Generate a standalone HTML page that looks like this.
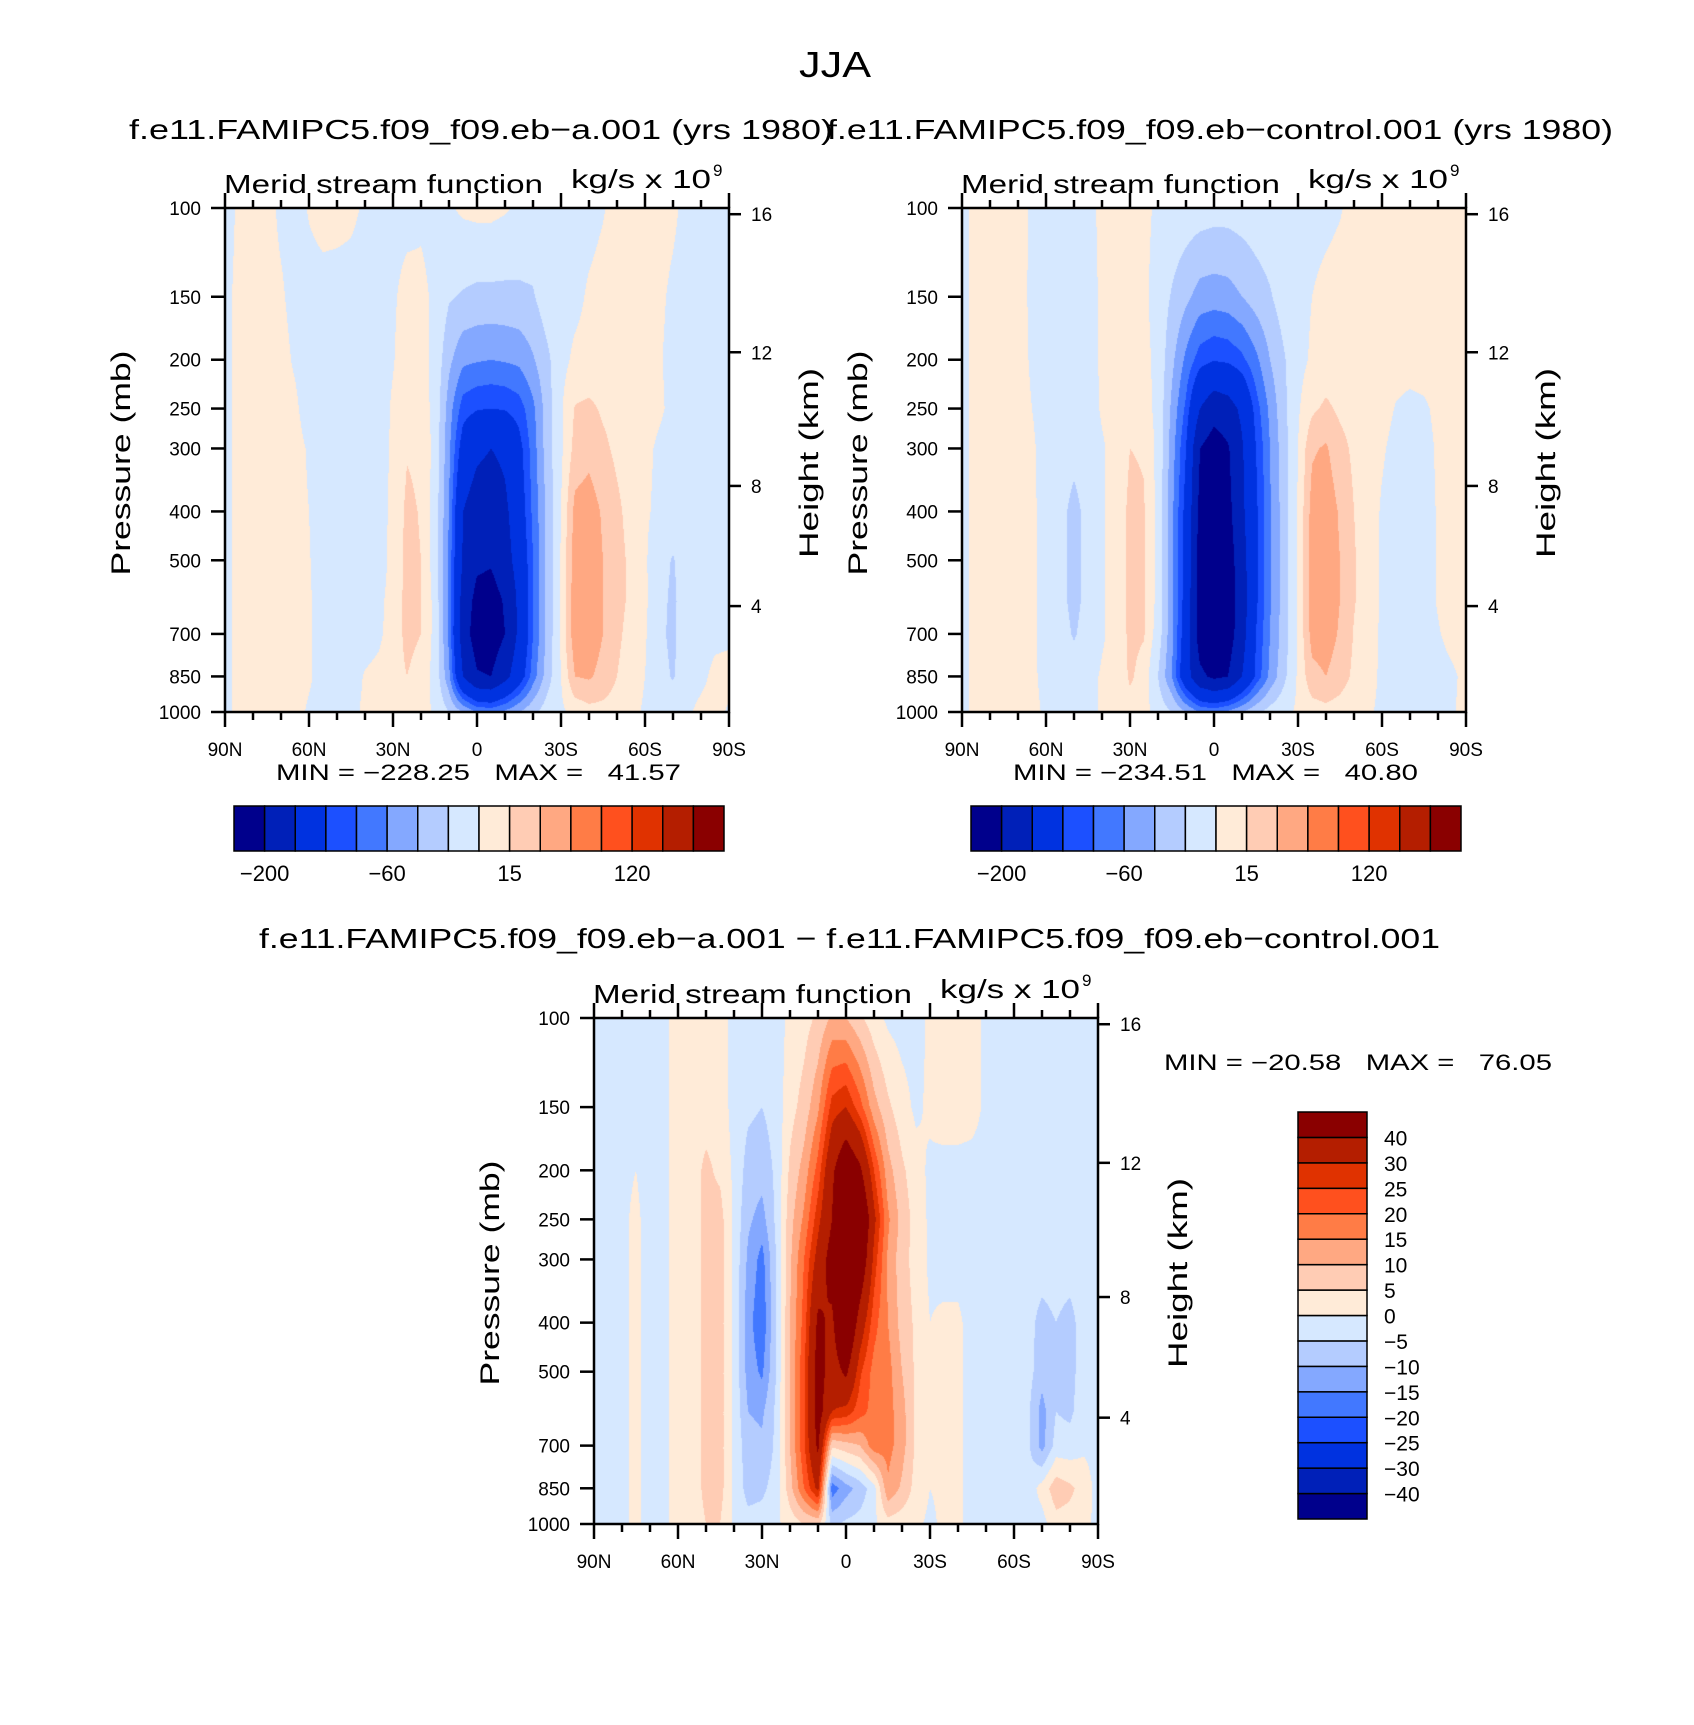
<!DOCTYPE html>
<html><head><meta charset="utf-8">
<style>
html,body{margin:0;padding:0;background:#fff;}
#root{position:relative;width:1694px;height:1725px;overflow:hidden;font-family:"Liberation Sans",sans-serif;}
canvas{position:absolute;}
svg{position:absolute;left:0;top:0;}
text{font-family:"Liberation Sans",sans-serif;fill:#000;white-space:pre;}
</style></head>
<body>
<div id="root">
<canvas id="c1" width="504" height="504" style="left:225px;top:208px"></canvas>
<canvas id="c2" width="504" height="504" style="left:962px;top:208px"></canvas>
<canvas id="c3" width="504" height="506" style="left:594px;top:1018px"></canvas>
<svg id="ov" width="1694" height="1725">
<text x="835" y="77" font-size="36" text-anchor="middle" textLength="72" lengthAdjust="spacingAndGlyphs">JJA</text>
<text x="129" y="139" font-size="28" textLength="704" lengthAdjust="spacingAndGlyphs">f.e11.FAMIPC5.f09_f09.eb−a.001 (yrs 1980)</text>
<text x="827" y="139" font-size="28" textLength="786" lengthAdjust="spacingAndGlyphs">f.e11.FAMIPC5.f09_f09.eb−control.001 (yrs 1980)</text>
<text x="259" y="948" font-size="28" textLength="1181" lengthAdjust="spacingAndGlyphs">f.e11.FAMIPC5.f09_f09.eb−a.001 − f.e11.FAMIPC5.f09_f09.eb−control.001</text>
<text x="1164" y="1070" font-size="22" textLength="388" lengthAdjust="spacingAndGlyphs">MIN = −20.58   MAX =   76.05</text>
</svg>
</div>
<script>
// ---------- data ----------
const plevs = [100,150,200,250,300,400,500,600,700,850,1000];
const latLabels = ["90N","60N","30N","0","30S","60S","90S"];
const presTicks = [100,150,200,250,300,400,500,700,850,1000];
const heightTicks = [4,8,12,16];
const levelsAbs = [-200,-150,-100,-80,-60,-40,-20,0,15,30,60,90,120,150,200];
const levelsAbsLabels = ["−200","−60","15","120"];
const levelsDiff = [-40,-30,-25,-20,-15,-10,-5,0,5,10,15,20,25,30,40];
const levelsDiffLabels = ["−40","−30","−25","−20","−15","−10","−5","0","5","10","15","20","25","30","40"];
const colors = ['#00008c','#0020b8','#0032e0','#1c50ff','#4278ff','#84a8ff','#b4ccff','#d6e8ff','#ffebd8','#ffccb4','#ffa882','#ff7c46','#ff501e','#e03200','#b41e00','#8a0000'];
const statsA = ["−228.25","41.57"];
const statsB = ["−234.51","40.80"];

const fieldA = [
[-5,2,5,5,-3,-5,1,5,5,3,-2,-5,-5,-5,-3,-5,-2,3,5,5,2,-3,-5,-5,-5,-5,-5,-1,5,5,5,4,2,-3,-5,-5,-5],
[-3,3,5,5,2,-5,-5,-5,-6,-6,-6,-6,-2,5,4,-3,-18,-22,-25,-25,-25,-24,-22,-8,-5,-4,2,5,6,5,4,2,-2,-5,-5,-5,-5],
[-3,3,6,6,5,-2,-8,-8,-8,-8,-8,-6,-1,8,6,-5,-35,-55,-58,-60,-58,-55,-42,-25,-5,3,5,7,7,6,5,1,-3,-5,-5,-5,-5],
[-3,3,6,6,6,3,-8,-8,-8,-8,-8,-7,2,10,8,-5,-50,-90,-98,-100,-98,-90,-65,-30,-2,16,18,13,10,7,5,2,-3,-5,-5,-5,-5],
[-3,3,6,6,6,6,-2,-8,-8,-8,-8,-8,3,14,12,-5,-55,-115,-140,-150,-140,-110,-70,-30,-3,20,25,18,12,8,3,-2,-5,-5,-5,-5,-5],
[-3,3,6,6,6,6,0,-8,-8,-8,-8,-8,5,18,14,-8,-60,-150,-175,-180,-160,-120,-75,-35,0,35,38,28,18,10,2,-3,-5,-5,-5,-5,-5],
[-3,3,6,6,6,6,1,-8,-8,-8,-8,-7,5,19,15,-8,-65,-155,-190,-195,-170,-130,-80,-35,2,38,40,30,20,12,2,-10,-22,-5,-5,-5,-5],
[-3,3,6,6,6,6,2,-8,-8,-8,-6,-3,5,20,15,-5,-65,-170,-215,-220,-195,-140,-80,-35,3,40,41,30,20,12,3,-12,-25,-5,-5,-5,-5],
[-3,3,6,6,6,6,2,-8,-8,-8,-5,-2,5,20,15,-5,-65,-175,-225,-228,-200,-140,-80,-35,3,40,40,30,18,10,2,-15,-25,-5,-5,-3,-3],
[-3,3,6,6,6,6,2,-6,-6,-5,1,3,8,15,8,-5,-55,-150,-195,-200,-165,-120,-70,-30,0,30,32,25,15,8,0,-12,-22,-5,-3,3,5],
[-3,3,5,5,5,5,-2,-5,-3,-3,2,3,5,8,5,-2,-20,-40,-60,-65,-55,-40,-25,-10,-3,5,10,10,8,4,-2,-8,-5,-2,3,5,-2]
];
const fieldB = [
[-3,3,5,5,5,-2,-6,-6,-6,-4,3,5,5,4,-3,-6,-8,-10,-12,-12,-10,-8,-6,-6,-6,-5,-4,-1,4,6,6,6,6,6,6,6,6],
[-3,3,6,6,6,-3,-7,-7,-7,-7,3,6,6,4,-8,-22,-35,-48,-50,-48,-40,-30,-22,-10,-5,0,4,6,6,6,6,6,6,6,6,6,6],
[-3,3,6,6,6,-2,-8,-8,-8,-8,3,7,7,5,-5,-35,-65,-90,-98,-95,-85,-65,-40,-22,-5,2,5,7,8,8,7,6,6,6,6,6,6],
[-3,3,6,6,6,0,-8,-8,-8,-8,2,7,9,7,-5,-45,-85,-150,-180,-170,-140,-90,-55,-25,-2,12,18,12,9,8,6,-1,-4,-2,3,5,6],
[-3,3,6,6,6,3,-8,-10,-15,-10,-2,6,15,14,-5,-50,-100,-200,-225,-205,-155,-100,-60,-28,0,28,32,20,12,8,2,-5,-7,-5,2,5,5],
[-3,3,6,6,6,4,-8,-15,-25,-15,-2,7,18,16,-5,-55,-110,-215,-234,-215,-160,-105,-62,-30,2,36,40,28,15,9,-2,-7,-6,-5,1,5,5],
[-3,3,6,6,6,4,-8,-15,-25,-15,-2,7,18,16,-5,-55,-110,-225,-234,-225,-170,-105,-62,-30,2,38,40,30,16,9,-2,-7,-6,-5,1,5,5],
[-3,3,6,6,6,4,-8,-15,-25,-15,-2,7,18,16,-5,-55,-115,-228,-234,-228,-175,-105,-62,-30,2,38,40,30,16,8,-2,-7,-6,-5,1,5,5],
[-3,3,6,6,6,4,-8,-12,-22,-12,-2,6,18,16,-8,-55,-120,-225,-232,-225,-170,-100,-60,-30,2,36,38,28,14,8,-3,-7,-6,-6,-1,4,5],
[-3,3,6,6,6,4,-6,-8,-10,-6,2,5,17,10,-20,-60,-130,-190,-210,-200,-150,-95,-55,-25,3,25,30,22,12,6,-3,-6,-8,-15,-5,-2,3],
[-3,3,5,5,5,5,-3,-5,-5,-5,2,4,10,6,-8,-20,-40,-60,-65,-55,-40,-25,-12,-5,3,8,10,8,5,2,-3,-5,-4,-3,-2,-1,3]
];
const fieldD = [
[-2,-2,-1,-1,-2,-1,2,3,3,3,-2,-2,-2,-2,1,3,6,11,10,6,2,-1,-2,-2,1,3,3,2,-1,-2,-2,-2,-2,-2,-2,-2,-2],
[-2,-2,-1,-1,-2,-1,2,3,3,3,-2,-4,-5,-3,3,7,14,27,30,22,12,6,2,-1,1,3,3,2,-1,-2,-2,-2,-2,-2,-2,-2,-2],
[-2,-2,-1,0,-2,-1,2,3,6,4,-1,-7,-8,-4,6,12,22,38,50,42,25,12,6,2,-1,-2,-2,-2,-2,-2,-2,-2,-2,-2,-2,-2,-2],
[-2,-2,-1,1,-2,-1,2,3,6,7,-1,-9,-12,-4,8,16,28,40,60,55,32,16,8,3,-1,-2,-2,-2,-2,-2,-2,-2,-2,-2,-2,-2,-2],
[-2,-2,-1,1,-2,-1,2,3,6,7,-1,-11,-17,-5,9,20,33,45,65,50,28,14,7,3,-1,-2,-2,-2,-2,-2,-2,-2,-2,-2,-2,-2,-2],
[-2,-2,-1,1,-2,-1,2,3,6,7,-1,-13,-19,-5,10,22,42,38,55,35,22,15,8,4,0,1,1,-2,-2,-2,-2,-3,-7,-5,-7,-2,-2],
[-2,-2,-1,1,-2,-1,2,3,6,7,-1,-12,-16,-5,10,24,45,35,42,26,18,17,10,4,0,1,1,-2,-2,-2,-2,-3,-8,-5,-7,-2,-2],
[-2,-2,-1,1,-2,-1,2,3,6,7,-1,-10,-11,-4,10,24,45,30,28,22,18,17,12,4,0,1,1,-2,-2,-2,-2,-4,-12,-5,-6,-2,-2],
[-2,-2,-1,1,-2,-1,2,3,6,7,-1,-8,-9,-4,10,24,42,6,8,10,18,17,12,4,0,1,1,-2,-2,-2,-2,-4,-12,-3,-3,-1,-2],
[-2,-2,-1,1,-2,-1,2,3,6,7,-1,-7,-6,-3,8,20,32,-18,-12,-8,-2,14,9,3,0,1,1,-2,-2,-2,-2,-3,2,8,6,3,-2],
[-2,-2,-1,1,-2,-1,2,3,5,5,-1,-3,-3,-1,2,5,6,-6,-4,-3,-1,3,2,1,-1,1,1,-2,-2,-2,-2,-2,-2,3,3,2,-2]
];

// ---------- rendering ----------
const lp = plevs.map(p => Math.log10(p));
function hexRGB(h){return [parseInt(h.substr(1,2),16),parseInt(h.substr(3,2),16),parseInt(h.substr(5,2),16)];}
const rgb = colors.map(hexRGB);
function colorIndex(v, levels){let k=0;while(k<levels.length && v>=levels[k])k++;return k;}
function val(f,r,k){const row=f[Math.min(r,f.length-1)];return row[Math.min(k,row.length-1)];}
function drawField(id, field, levels){
  const cv=document.getElementById(id), ctx=cv.getContext('2d');
  const W=cv.width,H=cv.height, img=ctx.createImageData(W,H);
  const ncol=field[0].length-1;
  for(let j=0;j<H;j++){
    const l=2+(j+0.5)/H;
    let r=0;while(r<lp.length-2 && l>lp[r+1])r++;
    const t=Math.max(0,Math.min(1,(l-lp[r])/(lp[r+1]-lp[r])));
    for(let i=0;i<W;i++){
      const c=(i+0.5)/W*ncol;let k=Math.min(ncol-1,Math.floor(c));const s=c-k;
      const v=(1-t)*((1-s)*val(field,r,k)+s*val(field,r,k+1))+t*((1-s)*val(field,r+1,k)+s*val(field,r+1,k+1));
      const col=rgb[colorIndex(v,levels)];const o=(j*W+i)*4;
      img.data[o]=col[0];img.data[o+1]=col[1];img.data[o+2]=col[2];img.data[o+3]=255;
    }
  }
  ctx.putImageData(img,0,0);
}
drawField('c1',fieldA,levelsAbs);
drawField('c2',fieldB,levelsAbs);
drawField('c3',fieldD,levelsDiff);

// ---------- axes ----------
const NS='http://www.w3.org/2000/svg';
const ov=document.getElementById('ov');
function mk(tag,attrs,txt){const e=document.createElementNS(NS,tag);for(const a in attrs)e.setAttribute(a,attrs[a]);if(txt!==undefined)e.textContent=txt;ov.appendChild(e);return e;}
function yOfP(b,p){return b.y+(Math.log10(p)-2)*b.h;}
function pOfZ(zkm){const z=zkm*1000;if(z<=11000)return 1013.25*Math.pow(1-2.25577e-5*z,5.2559);return 226.32*Math.exp(-(z-11000)/6341.6);}
function xOfLat(b,deg){return b.x+deg/180*b.w;}

function drawAxes(b,name){
  let e;
  for(const p of presTicks){
    const y=yOfP(b,p);
    e=mk('line',{x1:b.x-14,x2:b.x,y1:y,y2:y,stroke:'#000','stroke-width':2.5});
    
    
    e=mk('text',{x:b.x-24,y:y+7,'font-size':19,'text-anchor':'end'},String(p));
    
    
  }
  for(const z of heightTicks){
    const y=yOfP(b,pOfZ(z));
    e=mk('line',{x1:b.x+b.w,x2:b.x+b.w+12,y1:y,y2:y,stroke:'#000','stroke-width':2.5});
    
    
    e=mk('text',{x:b.x+b.w+22,y:y+7,'font-size':19},String(z));
    
    
  }
  for(let d=0;d<=180;d+=10){
    const x=xOfLat(b,d), major=(d%30===0), L=major?15:8;
    e=mk('line',{x1:x,x2:x,y1:b.y,y2:b.y-L,stroke:'#000','stroke-width':2.5});
    
    
    e=mk('line',{x1:x,x2:x,y1:b.y+b.h,y2:b.y+b.h+L,stroke:'#000','stroke-width':2.5});
    
    
  }
  latLabels.forEach((t,i)=>{
    e=mk('text',{x:xOfLat(b,i*30),y:b.y+b.h+44,'font-size':19,'text-anchor':'middle'},t);
    
    
  });
  e=mk('rect',{x:b.x,y:b.y,width:b.w,height:b.h,fill:'none',stroke:'#000','stroke-width':2.5});
  
  
  e=mk('text',{x:b.x-1,y:b.y-15,'font-size':26,textLength:319,lengthAdjust:'spacingAndGlyphs'},'Merid stream function');
  
  
  e=mk('text',{x:b.x+346,y:b.y-20,'font-size':26,textLength:140,lengthAdjust:'spacingAndGlyphs'},'kg/s x 10');
  
  
  e=mk('text',{x:b.x+488,y:b.y-32,'font-size':17},'9');
  
  
  const cy=b.y+255;
  e=mk('text',{x:b.x-95,y:cy,'font-size':27,'text-anchor':'middle',transform:'rotate(-90 '+(b.x-95)+' '+cy+')',textLength:225,lengthAdjust:'spacingAndGlyphs'},'Pressure (mb)');
  
  
  e=mk('text',{x:b.x+b.w+89,y:cy,'font-size':27,'text-anchor':'middle',transform:'rotate(-90 '+(b.x+b.w+89)+' '+cy+')',textLength:190,lengthAdjust:'spacingAndGlyphs'},'Height (km)');
  
  
}
function drawHBar(b,name,stats){
  let e;
  const x0=b.x+9,w=490,y0=b.y+b.h+94,h=45,n=colors.length,bw=w/n;
  colors.forEach((c,i)=>{
    e=mk('rect',{x:x0+i*bw,y:y0,width:bw,height:h,fill:c,stroke:'#000','stroke-width':1.5});
    
    
  });
  levelsAbsLabels.forEach((t,i)=>{
    e=mk('text',{x:x0+(1+4*i)*bw,y:y0+h+30,'font-size':22,'text-anchor':'middle'},t);
    
    
  });
  e=mk('text',{x:b.x+51,y:b.y+b.h+68,'font-size':22,textLength:405,lengthAdjust:'spacingAndGlyphs'},'MIN = '+stats[0]+'   MAX =   '+stats[1]);
  
  
}
const bA={x:225,y:208,w:504,h:504}, bB={x:962,y:208,w:504,h:504}, bD={x:594,y:1018,w:504,h:506};
drawAxes(bA,'panel-a'); drawAxes(bB,'panel-control'); drawAxes(bD,'panel-diff');
drawHBar(bA,'panel-a',statsA); drawHBar(bB,'panel-control',statsB);
// vertical colorbar for diff
(function(){
  let e;
  const x0=1298,w=69,y0=1112,h=407,n=colors.length,bh=h/n;
  colors.forEach((c,i)=>{
    e=mk('rect',{x:x0,y:y0+h-(i+1)*bh,width:w,height:bh,fill:c,stroke:'#000','stroke-width':1.5});
    
    
  });
  levelsDiffLabels.forEach((t,i)=>{
    e=mk('text',{x:1384,y:y0+h-(i+1)*bh+8,'font-size':21},t);
    
    
  });
})();
</script>
</body></html>
